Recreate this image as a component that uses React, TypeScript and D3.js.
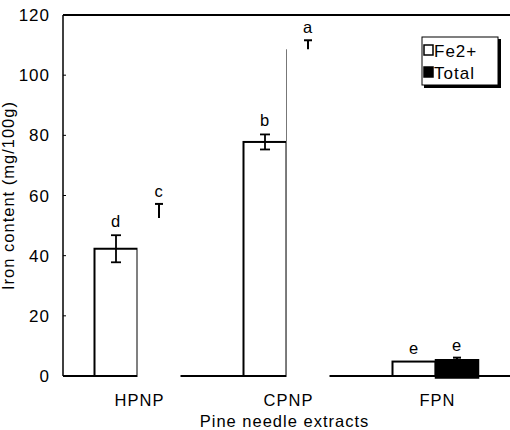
import React from "react";
import * as d3 from "d3";

// values
const categories = ["HPNP", "CPNP", "FPN"];
const fe2Values = [42.3, 77.8, 4.8];
const fe2Errors = [4.5, 2.5, 0];
const totalValues = [52.5, 108.6, 5.4];
const totalErrors = [4.7, 3.0, 0.7];
const fe2Letters = ["d", "b", "e"];
const totalLetters = ["c", "a", "e"];
const yTicks = [0, 20, 40, 60, 80, 100, 120];
const legendLabels = ["Fe2+", "Total"];

// in the scan the two big Total bars came out blank
const blankTotals = ["HPNP", "CPNP"];

const App = () => {
  const width = 510,
    height = 430;
  const margin = { top: 15, right: 0, bottom: 54, left: 63 };
  const innerW = width - margin.left - margin.right;
  const innerH = height - margin.top - margin.bottom;

  const x = d3.scaleBand().domain(categories).range([0, innerW]);
  const barW = 43;
  const y = d3.scaleLinear().domain([0, 120]).range([innerH, 0]);
  const font = "'Liberation Sans', Arial, sans-serif";

  return (
    <svg width={width} height={height} style={{ position: "absolute", left: 0, top: 0 }}>
      <g transform={`translate(${margin.left},${margin.top})`} fontFamily={font} letterSpacing={1}>
        {/* frame: left axis, top line, baseline */}
        <line x1={0} x2={0} y1={0} y2={innerH} stroke="#000" strokeWidth={1.5} />
        <line x1={0} x2={innerW} y1={0} y2={0} stroke="#000" strokeWidth={2} />
        <line x1={0} x2={innerW} y1={innerH} y2={innerH} stroke="#000" strokeWidth={2} />

        {yTicks.map((t) => (
          <g key={t} transform={`translate(0,${y(t)})`}>
            <line x1={0} x2={3} stroke="#000" strokeWidth={1} />
            <text x={-13} dy="0.36em" textAnchor="end" fontSize={17}>
              {t}
            </text>
          </g>
        ))}

        {categories.map((c, i) => {
          const cx = x(c)! + x.bandwidth() / 2;
          const fx = cx - barW;
          const tx = cx;
          const blank = blankTotals.includes(c);
          const fTop = y(fe2Values[i] + fe2Errors[i]);
          const tTop = y(totalValues[i] + totalErrors[i]);
          return (
            <g key={c}>
              {/* Fe2+ bar */}
              <rect
                x={fx}
                y={y(fe2Values[i])}
                width={barW}
                height={innerH - y(fe2Values[i])}
                fill="#fff"
                stroke="#000"
                strokeWidth={2}
              />
              {fe2Errors[i] > 0 && (
                <g stroke="#000" strokeWidth={1.8}>
                  <line x1={fx + barW / 2} x2={fx + barW / 2} y1={fTop} y2={y(fe2Values[i] - fe2Errors[i])} />
                  <line x1={fx + barW / 2 - 5} x2={fx + barW / 2 + 5} y1={fTop} y2={fTop} />
                  <line
                    x1={fx + barW / 2 - 5}
                    x2={fx + barW / 2 + 5}
                    y1={y(fe2Values[i] - fe2Errors[i])}
                    y2={y(fe2Values[i] - fe2Errors[i])}
                  />
                </g>
              )}
              <text x={fx + barW / 2} y={fTop - 8} textAnchor="middle" fontSize={16.5}>
                {fe2Letters[i]}
              </text>

              {/* Total bar */}
              <rect
                x={tx}
                y={y(totalValues[i])}
                width={barW}
                height={innerH - y(totalValues[i]) + 2}
                fill={blank ? "#fff" : "#000"}
                stroke={blank ? "none" : "#000"}
                strokeWidth={1.5}
              />
              {c === "CPNP" && (
                <line x1={tx} x2={tx} y1={y(totalValues[i])} y2={innerH} stroke="#777" strokeWidth={1} />
              )}
              <g stroke="#000" strokeWidth={2}>
                <line x1={tx + barW / 2} x2={tx + barW / 2} y1={tTop} y2={y(totalValues[i])} />
                <line x1={tx + barW / 2 - 4} x2={tx + barW / 2 + 4} y1={tTop} y2={tTop} />
              </g>
              <text x={tx + barW / 2} y={tTop - 7} textAnchor="middle" fontSize={16.5}>
                {totalLetters[i]}
              </text>

              <text x={cx + 2} y={innerH + 30} textAnchor="middle" fontSize={16.5}>
                {c}
              </text>
            </g>
          );
        })}

        <text x={innerW / 2 - 2} y={innerH + 51} textAnchor="middle" fontSize={16.5}>
          Pine needle extracts
        </text>
        <text
          transform={`translate(${-49},${innerH / 2})rotate(-90)`}
          textAnchor="middle"
          fontSize={16.5}
        >
          Iron content (mg/100g)
        </text>

        {/* legend */}
        <g transform={`translate(${422 - margin.left},${37 - margin.top})`}>
          <rect x={2} y={2} width={77} height={49} fill="#000" />
          <rect x={0} y={0} width={76} height={48} fill="#fff" stroke="#000" strokeWidth={1} />
          {legendLabels.map((l, i) => (
            <g key={l} transform={`translate(0,${i * 22})`}>
              <rect
                x={2}
                y={8}
                width={9}
                height={10}
                fill={i === 0 ? "#fff" : "#000"}
                stroke="#000"
                strokeWidth={1.5}
              />
              <text x={12} y={19.5} fontSize={17}>
                {l}
              </text>
            </g>
          ))}
        </g>
      </g>
    </svg>
  );
};

export default App;
